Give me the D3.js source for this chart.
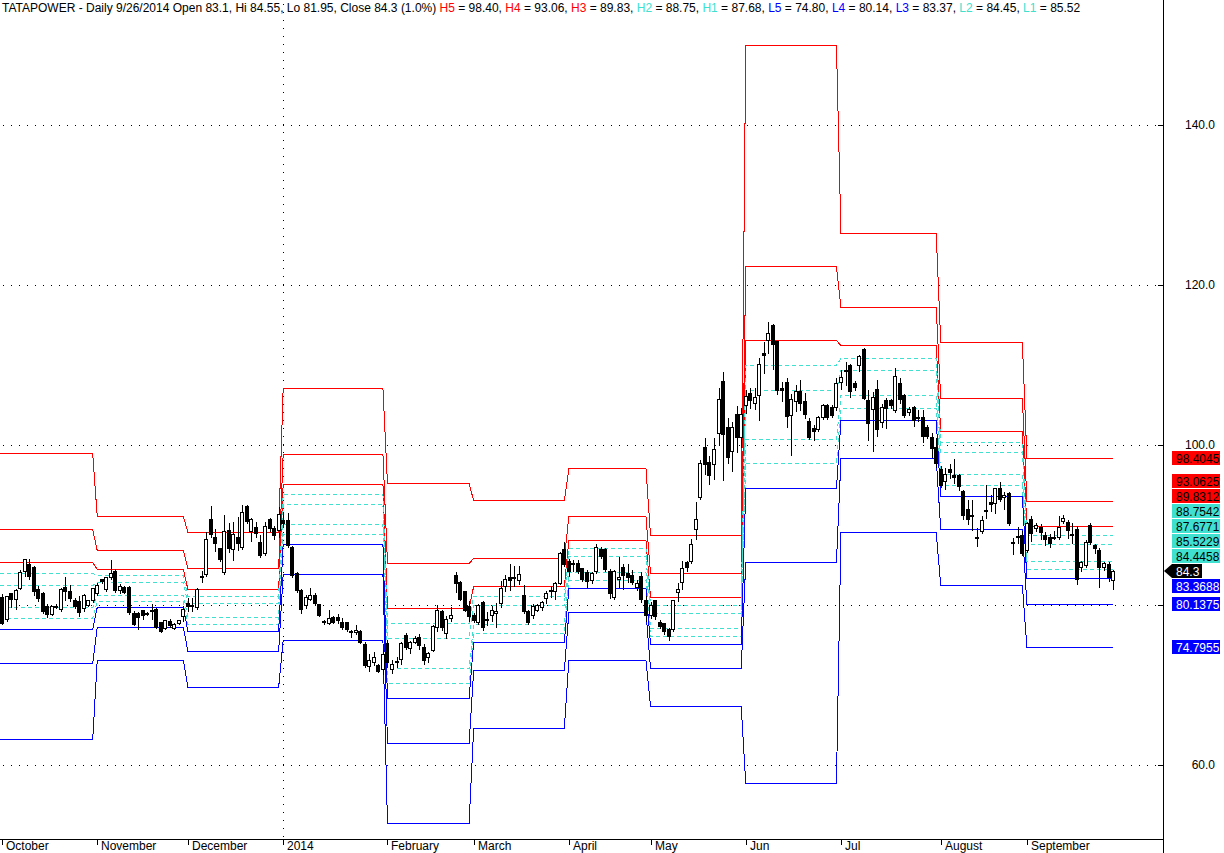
<!DOCTYPE html>
<html><head><meta charset="utf-8">
<script src="https://cdn.jsdelivr.net/npm/d3@7"></script>
<style>
body{margin:0;background:#fff}
svg{display:block}
text{font-family:"Liberation Sans",Arial,Helvetica,sans-serif;font-size:12px}
</style>
</head><body>
<svg id="chart" width="1224" height="853"></svg>
<script>
// ---------- DATA ----------
const ticker = "TATAPOWER";
const monthLabels = ["October","November","December","2014","February","March","April","May","Jun","Jul","August","September"];
const monthStart  = [0,21,41,62,85,104,125,143,164,185,207,226];
const yTickValues = [60,80,100,120,140];

const opens = [
 81.0,78.2,81.5,80.8,82.1,84.2,85.1,84.8,82.0,81.5,79.9,78.9,79.9,79.5,82.3,81.7,80.6,80.5,79.6,80.0,80.6,
 81.5,83.2,82.0,83.5,84.3,81.9,82.3,82.3,79.0,79.0,79.4,79.0,79.4,79.5,77.9,77.1,78.0,77.1,77.7,78.6,
 80.2,79.9,79.8,83.5,83.9,90.8,88.5,87.1,84.1,89.4,87.0,88.5,87.3,92.4,89.2,89.7,87.9,86.5,90.7,89.6,89.4,
 90.6,90.6,87.3,83.95,81.9,80.0,80.8,81.25,80.1,77.9,77.8,78.5,78.5,77.9,77.9,76.7,76.6,76.7,75.1,72.4,72.9,72.5,71.95,
 75.2,71.95,72.9,73.2,76.3,74.6,75.4,76.0,74.8,73.5,74.4,77.3,79.2,76.5,78.4,83.75,82.9,81.8,79.9,
 78.75,77.9,80.4,78.1,78.7,79.0,80.2,82.4,83.5,83.5,83.1,81.25,79.3,78.7,79.4,79.7,80.9,81.9,81.8,82.8,87.0,
 85.5,85.1,85.2,84.6,84.1,83.1,84.3,87.0,87.0,84.25,80.95,83.2,84.7,83.95,83.75,82.3,83.6,80.6,
 78.75,80.6,77.9,77.7,76.95,76.95,81.6,82.9,85.4,85.55,89.45,93.55,99.7,97.9,97.6,101.45,108.0,102.3,99.3,103.9,101.0,
 105.0,106.5,105.2,106.2,111.5,113.1,115.0,113.0,107.1,107.9,103.7,105.5,106.8,105.5,103.0,102.1,102.0,103.5,105.0,104.8,104.8,
 107.9,109.4,110.0,107.8,110.0,112.0,105.6,104.5,107.0,102.9,105.6,105.6,104.4,107.8,106.25,104.1,104.7,103.5,103.5,102.2,101.0,99.7,
 97.0,95.5,97.0,96.3,96.25,94.25,92.0,91.3,88.5,89.25,91.9,92.9,92.8,94.6,93.5,94.0,87.9,88.6,88.75,
 86.9,90.8,89.6,89.8,88.75,88.5,88.55,88.5,90.5,90.4,88.9,89.5,84.8,85.0,90.0,87.5,86.9,84.8,85.1,83.1
];
const highs = [
 81.5,81.3,81.6,82.1,84.5,85.9,85.9,85.0,82.5,81.7,80.2,80.0,80.2,82.3,83.6,82.6,81.0,81.3,81.5,80.8,82.3,
 82.9,83.4,83.6,85.7,84.6,82.7,82.5,82.5,79.4,79.3,79.5,79.3,80.2,79.7,78.0,78.3,78.4,77.9,78.3,80.0,
 81.0,81.0,82.3,84.4,89.3,92.5,89.6,87.3,91.4,90.4,90.5,91.1,92.6,92.6,91.0,90.5,88.9,90.5,91.0,90.0,92.4,
 91.7,91.6,87.5,84.3,82.1,81.4,82.2,81.6,80.3,78.2,79.5,78.8,79.0,78.5,78.0,77.0,77.6,77.0,75.5,74.0,74.3,72.8,74.5,
 75.7,73.3,73.6,75.5,76.6,75.6,76.2,76.5,75.2,74.3,77.6,80.1,79.5,78.8,79.9,84.3,83.1,81.9,80.6,
 79.1,80.2,80.6,79.2,80.0,80.4,83.1,83.9,85.3,85.0,85.0,82.6,79.5,80.2,80.2,80.6,81.9,82.5,83.0,86.8,88.0,
 85.9,85.7,85.7,84.8,84.5,84.3,87.7,87.4,87.2,84.6,84.5,86.1,85.2,85.2,84.5,83.3,84.3,81.2,
 80.5,80.8,78.3,77.9,77.2,80.8,82.9,85.6,85.6,88.4,93.0,98.3,101.0,98.8,101.0,107.2,109.2,103.5,103.0,105.0,104.8,
 107.0,107.2,107.2,111.0,113.0,115.5,115.3,113.1,108.0,108.5,106.5,107.6,108.2,106.6,103.5,102.6,103.7,105.2,105.2,105.1,108.5,
 109.5,110.5,110.3,108.1,111.4,112.3,107.0,106.7,108.3,105.3,106.0,105.9,109.8,108.5,106.5,104.9,105.0,104.5,104.5,102.6,101.6,101.0,
 97.5,97.3,97.7,98.4,96.5,94.5,93.2,93.3,89.7,91.3,95.1,93.9,94.8,95.5,94.2,94.2,88.5,89.9,89.4,
 90.5,91.2,90.4,90.2,89.2,89.0,89.4,91.3,91.4,90.7,90.4,90.0,85.6,88.2,90.4,87.7,87.3,85.5,85.5,84.55
];
const lows = [
 77.6,78.0,79.8,79.5,82.0,83.6,83.2,81.3,80.5,79.0,78.5,78.7,79.6,79.2,80.6,80.5,79.6,78.6,79.3,79.9,80.4,
 81.3,82.8,81.8,83.3,81.6,81.5,81.5,78.9,77.5,77.0,78.2,78.7,78.2,77.1,76.6,77.0,77.3,77.0,77.6,78.0,
 79.2,79.3,79.5,82.9,83.6,88.5,86.7,85.5,83.9,86.6,85.6,86.9,87.0,90.2,88.0,88.5,86.0,86.2,89.2,88.3,88.5,
 89.7,87.3,83.5,81.6,79.0,79.6,80.6,80.0,78.6,77.6,77.6,77.7,77.8,77.0,76.8,76.0,76.4,75.2,72.3,71.8,72.5,71.6,71.4,
 72.3,71.5,72.2,72.6,74.5,74.0,75.2,74.5,72.6,72.9,74.2,76.8,76.9,75.9,78.0,81.6,80.6,79.2,78.0,
 77.9,77.6,76.9,77.5,78.0,77.3,79.8,81.7,81.9,82.4,82.6,79.0,77.6,78.4,79.2,79.4,80.3,81.0,80.8,82.6,84.9,
 83.6,84.2,84.0,83.0,82.2,82.8,84.0,85.9,84.2,80.9,80.7,82.2,82.0,82.9,82.6,81.9,80.4,78.0,
 78.4,78.2,77.1,76.4,75.6,76.7,80.5,82.0,84.2,85.2,88.3,93.2,96.4,95.1,95.7,100.0,95.6,97.8,96.8,99.1,99.8,
 104.0,104.6,104.5,103.1,109.0,111.5,109.5,106.4,105.5,102.2,98.7,104.2,104.4,103.4,100.7,100.6,101.8,103.3,103.2,103.5,104.4,
 107.0,107.5,106.0,106.9,109.3,105.7,100.6,99.3,101.1,102.3,102.1,104.6,104.1,105.3,103.5,103.8,102.4,103.0,100.4,100.9,98.5,97.3,
 94.7,94.5,95.9,95.2,94.4,90.7,90.1,89.4,87.4,89.0,90.9,91.8,91.5,93.0,92.0,90.0,86.4,87.8,86.2,
 86.6,88.0,89.3,88.3,87.5,87.2,88.2,88.3,90.2,88.4,87.8,82.6,84.3,84.7,87.6,86.5,82.3,84.4,83.0,81.95
];
const closes = [
 77.8,81.1,80.8,81.9,84.1,85.8,83.6,81.7,80.9,79.2,78.9,79.9,79.8,82.0,81.7,80.9,79.9,79.1,81.3,80.6,82.1,
 82.5,83.0,83.5,84.0,81.9,82.4,81.6,79.1,77.6,78.5,78.8,78.9,79.3,77.3,76.8,78.1,77.5,77.6,78.1,79.5,
 79.9,80.0,82.0,83.6,88.3,88.9,87.7,85.75,89.25,87.1,88.9,87.8,91.6,90.5,90.7,89.0,86.2,89.9,89.6,88.75,91.4,
 90.3,87.5,83.8,81.9,79.5,81.0,81.25,80.3,78.75,77.95,78.4,77.9,78.1,77.3,77.0,76.75,76.9,75.4,72.5,73.1,73.5,71.8,73.9,
 72.9,72.6,73.0,75.2,74.8,75.4,75.9,75.0,73.1,74.0,77.4,79.4,77.3,78.3,78.7,82.8,80.75,79.4,78.6,
 78.1,80.0,77.3,78.3,79.4,79.2,82.1,83.2,83.1,83.4,83.9,79.3,77.9,79.9,80.0,80.4,81.5,81.9,82.8,86.5,85.1,
 84.2,85.2,84.3,83.25,83.0,84.0,87.2,86.1,84.5,81.55,84.25,83.55,83.7,83.55,82.9,82.8,80.8,78.7,
 80.0,78.6,77.4,76.75,76.1,80.6,81.95,84.6,84.7,87.6,90.8,97.7,97.6,96.3,99.45,105.8,101.4,98.55,102.3,101.0,103.85,
 106.1,105.6,106.0,110.1,111.2,114.0,112.6,106.9,106.9,103.6,105.7,106.7,105.3,103.9,101.0,101.8,103.5,104.95,103.5,103.8,107.8,
 108.5,109.2,106.8,107.2,111.1,105.9,102.8,106.0,102.0,104.8,104.6,105.0,108.6,105.8,103.75,104.5,103.1,103.45,101.1,101.1,99.6,97.7,
 95.0,96.4,96.6,96.0,94.9,91.3,90.8,91.2,88.4,90.6,91.8,92.6,94.6,93.3,93.7,90.3,87.9,88.6,86.5,
 90.2,88.95,89.95,89.1,88.3,87.7,88.5,89.8,90.85,89.4,88.9,83.3,85.4,87.9,87.9,87.1,84.8,85.2,83.47,84.3
];

// Monthly Camarilla levels (one value per month)
const levelH5 = [99.0, 91.1, 89.1, 107.1, 95.25, 93.1, 97.1, 88.7, 150.0, 126.5, 112.9, 98.4045];
const levelH4 = [89.55, 86.9, 84.6, 98.85, 85.25, 85.85, 91.1, 83.95, 122.35, 117.2, 105.9, 93.0625];
const levelH3 = [85.35, 84.5, 82.0, 95.1, 79.63, 82.35, 88.1, 81.0, 113.1, 112.5, 101.8, 89.8312];
const levelH2 = [83.95, 83.7, 81.13, 93.85, 77.75, 81.18, 87.1, 80.02, 110.0, 110.93, 100.43, 88.7542];
const levelH1 = [82.55, 82.9, 80.27, 92.6, 75.88, 80.02, 86.1, 79.03, 106.93, 109.37, 99.07, 87.6771];
const levelL1 = [79.75, 81.3, 78.53, 90.1, 72.13, 77.68, 84.1, 77.07, 100.77, 106.23, 96.33, 85.5229];
const levelL2 = [78.35, 80.5, 77.67, 88.85, 70.25, 76.52, 83.1, 76.08, 97.7, 104.67, 94.97, 84.4458];
const levelL3 = [76.95, 79.7, 76.8, 87.6, 68.38, 75.35, 82.1, 75.1, 94.6, 103.1, 93.6, 83.3688];
const levelL4 = [72.75, 77.3, 74.2, 83.85, 62.75, 71.85, 79.1, 72.15, 85.35, 98.4, 89.5, 80.1375];
const levelL5 = [63.3, 73.1, 69.7, 75.6, 52.75, 64.6, 73.1, 67.4, 57.7, 89.1, 82.5, 74.7955];

// ---------- CHART ----------
const RED = "#ff0000", BLUE = "#0000ff", CYAN = "#40e0d0";
const levelDefs = [
  {name:"H5", vals:levelH5, color:RED,  dash:null, text:"#000"},
  {name:"H4", vals:levelH4, color:RED,  dash:null, text:"#000"},
  {name:"H3", vals:levelH3, color:RED,  dash:null, text:"#000"},
  {name:"H2", vals:levelH2, color:CYAN, dash:"4,3", text:"#000"},
  {name:"H1", vals:levelH1, color:CYAN, dash:"4,3", text:"#000"},
  {name:"L1", vals:levelL1, color:CYAN, dash:"4,3", text:"#000"},
  {name:"L2", vals:levelL2, color:CYAN, dash:"4,3", text:"#000"},
  {name:"L3", vals:levelL3, color:BLUE, dash:null, text:"#fff"},
  {name:"L4", vals:levelL4, color:BLUE, dash:null, text:"#fff"},
  {name:"L5", vals:levelL5, color:BLUE, dash:null, text:"#fff"}
];

const svg = d3.select("#chart");
const plotRight = 1163, axisY = 839;
const n = closes.length;
const x = d3.scaleLinear().domain([0, n-1]).range([2, 2 + (n-1)*4.535]);
const y = d3.scaleLinear().domain([50.75, 155.625]).range([axisY, 0]);
const px = v => Math.round(v) + 0.5;
const monthOf = i => { let k = 0; for (let m = 0; m < monthStart.length; m++) if (i >= monthStart[m]) k = m; return k; };

svg.append("rect").attr("width",1224).attr("height",853).attr("fill","#fff");

// gridlines (dotted)
const grid = svg.append("g").attr("shape-rendering","crispEdges");
yTickValues.forEach(v => {
  grid.append("line").attr("x1",3).attr("x2",plotRight-5)
    .attr("y1",px(y(v))).attr("y2",px(y(v)))
    .attr("stroke","#000").attr("stroke-dasharray","1,7");
});
// year separator
grid.append("line").attr("x1",px(x(monthStart[3]))).attr("x2",px(x(monthStart[3])))
  .attr("y1",4).attr("y2",axisY).attr("stroke","#000").attr("stroke-dasharray","1,7");

// level lines
const lineGen = d3.line();
const lvlG = svg.append("g").attr("fill","none").attr("shape-rendering","crispEdges");
levelDefs.forEach(d => {
  const pts = d3.range(n).map(i => [x(i), px(y(d.vals[monthOf(i)]))]);
  pts.unshift([0, pts[0][1]]);
  lvlG.append("path").attr("d", lineGen(pts))
    .attr("stroke", d.color).attr("stroke-width",1)
    .attr("stroke-dasharray", d.dash);
});

// candles
const cg = svg.append("g").attr("shape-rendering","crispEdges");
closes.forEach((c,i) => {
  const o = opens[i], hi = highs[i], lo = lows[i];
  const cx = Math.round(x(i));
  cg.append("line").attr("x1",cx+0.5).attr("x2",cx+0.5)
    .attr("y1",px(y(hi))).attr("y2",px(y(lo))).attr("stroke","#000");
  const top = px(y(Math.max(o,c))), bot = px(y(Math.min(o,c)));
  cg.append("rect").attr("x",cx-1.5).attr("width",3)
    .attr("y",top).attr("height",Math.max(1,bot-top))
    .attr("fill", c >= o ? "#fff" : "#000").attr("stroke","#000");
});

// right-hand value labels (stacked to avoid overlaps)
const last = monthStart.length - 1;
const lastClose = closes[n-1];
const closeY = y(lastClose);
const items = levelDefs.map(d => ({...d, v: d.vals[last]}));
const above = items.filter(d => d.v >= lastClose).sort((a,b) => a.v - b.v);
const below = items.filter(d => d.v < lastClose).sort((a,b) => b.v - a.v);
let prev = closeY;
above.forEach(d => { d.ly = Math.min(y(d.v), prev - 15); prev = d.ly; });
prev = closeY;
below.forEach(d => { d.ly = Math.max(y(d.v), prev + 15); prev = d.ly; });
const boxSpans = items.map(d => [Math.round(d.ly - 7), Math.round(d.ly - 7) + 14]);
boxSpans.push([Math.round(closeY) - 7, Math.round(closeY) + 7]);

// axes
const ax = svg.append("g").attr("shape-rendering","crispEdges");
ax.append("line").attr("x1",px(plotRight)).attr("x2",px(plotRight)).attr("y1",0).attr("y2",853).attr("stroke","#000");
ax.append("line").attr("x1",0).attr("x2",plotRight).attr("y1",px(axisY)).attr("y2",px(axisY)).attr("stroke","#000");
yTickValues.forEach(v => {
  ax.append("line").attr("x1",plotRight-5).attr("x2",plotRight).attr("y1",px(y(v))).attr("y2",px(y(v))).attr("stroke","#000");
  const ty = y(v);
  const hidden = boxSpans.some(s => ty + 5 > s[0] && ty - 5 < s[1]);
  if (!hidden) svg.append("text").attr("x",1215).attr("y",ty+4).attr("text-anchor","end").text(d3.format(".1f")(v));
});
monthStart.forEach((s,k) => {
  const tx = px(x(s));
  ax.append("line").attr("x1",tx).attr("x2",tx).attr("y1",axisY).attr("y2",axisY+6).attr("stroke","#000");
  svg.append("text").attr("x",tx+3.5).attr("y",850).text(monthLabels[k]);
});

const lab = svg.append("g");
items.forEach(d => {
  const top = Math.round(d.ly - 7);
  lab.append("rect").attr("x",1172).attr("y",top).attr("width",48).attr("height",14)
    .attr("fill", d.color).attr("shape-rendering","crispEdges");
  lab.append("text").attr("x",1176).attr("y",top+11.5).attr("fill",d.text).text(d3.format(".4f")(d.v));
});
const cyR = Math.round(closeY);
lab.append("path")
  .attr("d", `M1164,${cyR} L1172,${cyR-7} L1202,${cyR-7} L1202,${cyR+7} L1172,${cyR+7} Z`)
  .attr("fill","#000");
lab.append("text").attr("x",1176).attr("y",cyR+4.5).attr("fill","#fff").text(String(lastClose));

// title
const r2 = v => (Math.round(v*100 + 1e-6)/100).toFixed(2);
const pct = ((lastClose / closes[n-2] - 1) * 100).toFixed(1);
const title = svg.append("text").attr("x",2).attr("y",12);
title.append("tspan").attr("fill","#000")
  .text(`${ticker} - Daily 9/26/2014 Open ${opens[n-1]}, Hi ${highs[n-1]}, Lo ${lows[n-1]}, Close ${lastClose} (${pct}%) `);
const order = ["H5","H4","H3","H2","H1","L5","L4","L3","L2","L1"];
order.forEach((nm,k) => {
  const d = items.find(e => e.name === nm);
  title.append("tspan").attr("fill", d.color).text(nm);
  title.append("tspan").attr("fill","#000").text(" = " + r2(d.v) + (k < order.length-1 ? ", " : ""));
});
</script>
</body></html>
